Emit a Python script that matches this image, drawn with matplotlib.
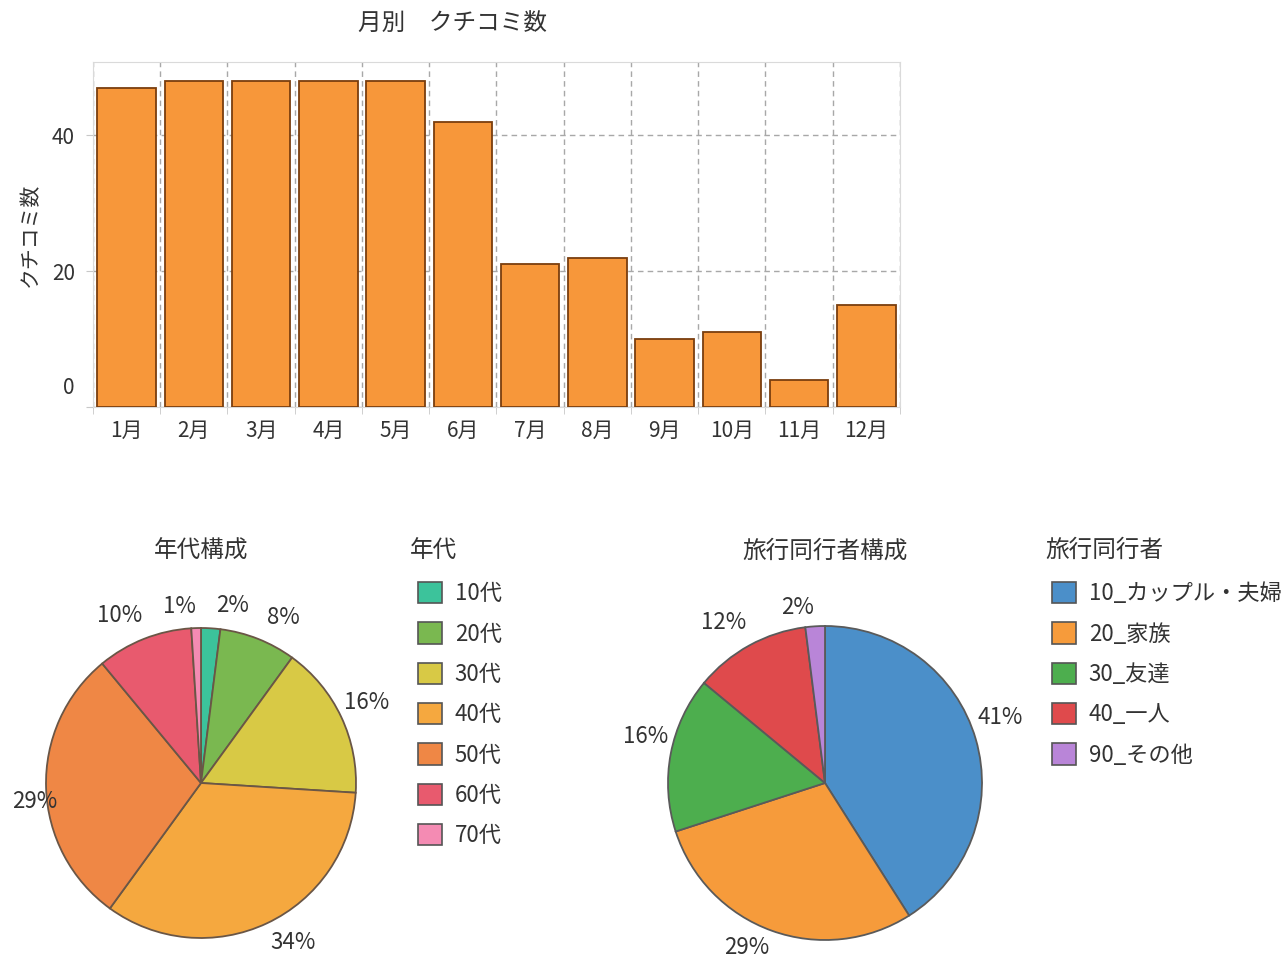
import matplotlib
matplotlib.use('Agg')
import matplotlib.pyplot as plt
import matplotlib.transforms as mtransforms
from matplotlib.patches import Patch
import numpy as np

plt.rcParams['font.family'] = ['Noto Sans CJK JP', 'DejaVu Sans']

# ---------------- data ----------------
months = ['1月', '2月', '3月', '4月', '5月', '6月', '7月', '8月', '9月', '10月', '11月', '12月']
review_counts = [47, 48, 48, 48, 48, 42, 21, 22, 10, 11, 4, 15]
y_ticks = [0, 20, 40]

age_labels = ['10代', '20代', '30代', '40代', '50代', '60代', '70代']
age_pct = [2, 8, 16, 34, 29, 10, 1]

comp_labels = ['10_カップル・夫婦', '20_家族', '30_友達', '40_一人', '90_その他']
comp_pct = [41, 29, 16, 12, 2]

# ---------------- style ----------------
age_colors = ['#3CC39B', '#7AB850', '#D8C945', '#F5A83F', '#EF8745', '#E85A6E', '#F48BB3']
comp_colors = ['#4B8FC9', '#F69B3B', '#4DAE4E', '#DF4A4C', '#B985D8']
TXT = '#333333'

W, H = 1288, 964
fig = plt.figure(figsize=(W / 100, H / 100), dpi=100)
fig.patch.set_facecolor('white')


def frac_box(x0, y0, x1, y1):
    return [x0 / W, 1 - y1 / H, (x1 - x0) / W, (y1 - y0) / H]


# ---------------- bar chart ----------------
ax = fig.add_axes(frac_box(93, 62, 900, 407))
x = np.arange(len(months))
ax.bar(x, review_counts, width=0.87, color='#F7973A', edgecolor='#7A3E0E',
       linewidth=1.3, zorder=3)
ax.set_xlim(-0.5, len(months) - 0.5)
ax.set_ylim(0, 50.8)
ax.set_yticks(y_ticks)
ax.set_xticks(x)
ax.set_xticklabels(months)
ax.set_xticks(np.arange(len(months) + 1) - 0.5, minor=True)
ax.grid(which='minor', axis='x', linestyle=(0, (4, 3)), color='#A8A8A8', lw=1, zorder=1)
ax.grid(which='major', axis='y', linestyle=(0, (4, 3)), color='#A8A8A8', lw=1, zorder=1)
ax.grid(which='major', axis='x', visible=False)
ax.tick_params(axis='x', which='major', length=0, pad=9, labelsize=15, labelcolor=TXT)
ax.tick_params(axis='x', which='minor', length=5, color='#C8C8C8')
ax.tick_params(axis='y', length=5, color='#C8C8C8', labelsize=15, labelcolor=TXT, pad=8)
for s in ax.spines.values():
    s.set_color('#DADADA')
ax.set_ylabel('クチコミ数', fontsize=15, color=TXT, labelpad=8)
fig.text(453 / W, 1 - 23 / H, '月別\u3000クチコミ数', ha='center', va='center',
         fontsize=17, color=TXT)
# the "0" label in the reference sits above its baseline
zero_lab = ax.get_yticklabels()[0]
zero_lab.set_transform(zero_lab.get_transform() +
                       mtransforms.ScaledTranslation(0, 22 / 100, fig.dpi_scale_trans))


# ---------------- pies ----------------
def draw_pie(cx, cy, r, values, colors, edge, offsets, dists, title):
    pax = fig.add_axes(frac_box(cx - r, cy - r, cx + r, cy + r))
    wedges, _ = pax.pie(values, colors=colors, startangle=90, counterclock=False,
                        radius=1, wedgeprops=dict(edgecolor=edge, linewidth=1.3))
    pax.set_xlim(-1, 1)
    pax.set_ylim(-1, 1)
    for w, v, off, d in zip(wedges, values, offsets, dists):
        ang = np.deg2rad((w.theta1 + w.theta2) / 2 + off)
        pax.text(d * np.cos(ang), d * np.sin(ang), f'{v}%', ha='center', va='center',
                 fontsize=16, color=TXT, clip_on=False)
    fig.text(cx / W, 1 - 551 / H, title, ha='center', va='center', fontsize=17, color=TXT)
    return pax


draw_pie(201, 783, 155, age_pct, age_colors, '#6A5646',
         [-6.4, -4.8, 0.8, 4.8, 4.7, 4.4, 5.0],
         [1.16, 1.19, 1.19, 1.19, 1.08, 1.20, 1.15], '年代構成')
draw_pie(825, 783, 157, comp_pct, comp_colors, '#5A5A5A',
         [4.2, -5.5, -3.8, 3.3, 5.2],
         [1.19, 1.16, 1.18, 1.21, 1.13], '旅行同行者構成')


# ---------------- legends ----------------
def draw_legend(title_x, box_x, top_y, labels, colors, title):
    fig.text(title_x / W, 1 - 550 / H, title, ha='left', va='center', fontsize=17, color=TXT)
    handles = [Patch(facecolor=c, edgecolor='#555555', lw=1.2) for c in colors]
    leg = fig.legend(handles, labels, loc='upper left',
                     bbox_to_anchor=(box_x / W, 1 - top_y / H), frameon=False,
                     fontsize=16, handlelength=1.1, handleheight=1.1, handletextpad=0.55,
                     labelspacing=0.77, borderpad=0, borderaxespad=0)
    for t in leg.get_texts():
        t.set_color(TXT)
    return leg


draw_legend(410, 418, 582, age_labels, age_colors, '年代')
draw_legend(1045, 1052, 582, comp_labels, comp_colors, '旅行同行者')

fig.savefig('out.png', dpi=100, facecolor='white')
